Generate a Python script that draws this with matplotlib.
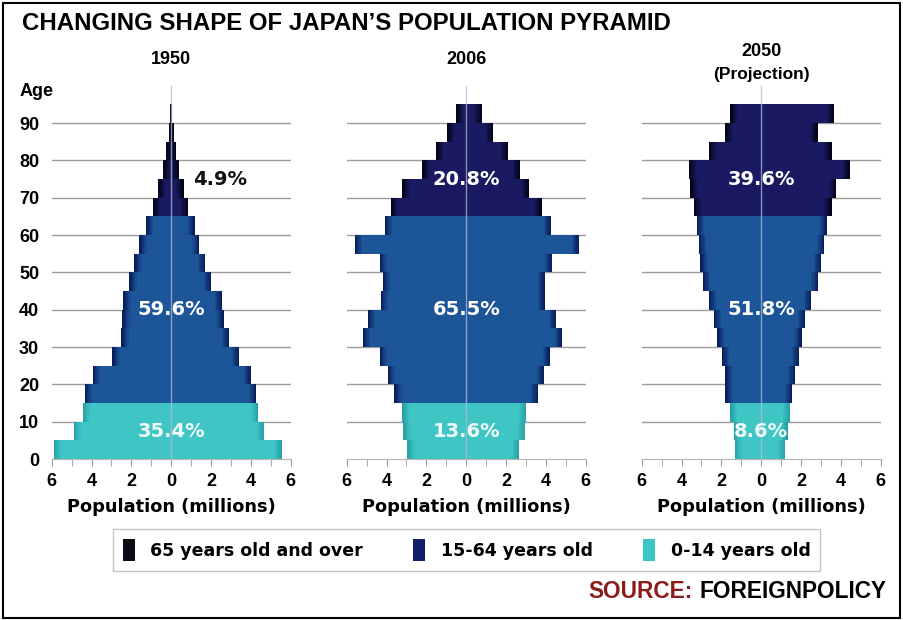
import numpy as np
import matplotlib
matplotlib.use('Agg')
from matplotlib import pyplot as plt
from matplotlib.colors import to_rgb
from matplotlib.patches import Patch, Rectangle
from matplotlib.ticker import FuncFormatter, MultipleLocator

# five-year age bands, 0-4 ... 90-94
age_bands = list(range(0, 95, 5))

# population in millions, left half / right half of each pyramid
left_1950 = [5.9, 4.9, 4.45, 4.35, 3.95, 2.95, 2.5, 2.45, 2.4, 2.1, 1.85, 1.6, 1.25, 0.9, 0.65, 0.4, 0.25, 0.12, 0.05]
right_1950 = [5.55, 4.65, 4.38, 4.28, 4.0, 3.4, 2.9, 2.63, 2.55, 2.0, 1.7, 1.42, 1.17, 0.85, 0.62, 0.38, 0.25, 0.12, 0.05]

left_2006 = [2.95, 3.15, 3.2, 3.6, 3.95, 4.35, 5.2, 4.95, 4.3, 4.2, 4.35, 5.6, 4.1, 3.8, 3.2, 2.2, 1.5, 0.95, 0.5]
right_2006 = [2.65, 2.95, 3.0, 3.6, 3.9, 4.2, 4.8, 4.5, 3.95, 3.95, 4.3, 5.65, 4.25, 3.8, 3.15, 2.7, 2.1, 1.35, 0.8]

left_2050 = [1.33, 1.38, 1.55, 1.8, 1.8, 1.97, 2.2, 2.38, 2.63, 2.93, 3.05, 3.13, 3.22, 3.38, 3.55, 3.63, 2.63, 1.8, 1.55]
right_2050 = [1.2, 1.33, 1.45, 1.57, 1.7, 1.9, 2.03, 2.2, 2.5, 2.87, 3.0, 3.17, 3.28, 3.53, 3.78, 4.45, 3.53, 2.83, 3.67]

# share of each age group (65+, 15-64, 0-14)
shares_1950 = ['4.9%', '59.6%', '35.4%']
shares_2006 = ['20.8%', '65.5%', '13.6%']
shares_2050 = ['39.6%', '51.8%', '8.6%']

legend_labels = ['65 years old and over', '15-64 years old', '0-14 years old']

# (edge colour, centre colour) for the bar shading
group_colors = {
    'old': ('#03031a', '#1a1a62'),
    'working': ('#081f5c', '#1c5598'),
    'young': ('#27a2a8', '#40c5c5'),
}
legend_colors = ['#0b0b14', '#0f1f6c', '#3cc6c6']

W, H = 904, 620
head = 'Liberation Sans'


def group_of(age):
    if age < 15:
        return 'young'
    if age < 65:
        return 'working'
    return 'old'


def shades(edge, main, n):
    e, m = np.array(to_rgb(edge)), np.array(to_rgb(main))
    return [tuple(e + (m - e) * k / (n - 1)) for k in range(n)]


def draw_pyramid(ax, left, right, shares, first=False, label_old_outside=False):
    layers = 7
    inset = 0.06
    band_shades = [shades(*group_colors[group_of(a)], layers) for a in age_bands]
    left, right = np.array(left), np.array(right)
    for k in range(layers):
        colors = [s[k] for s in band_shades]
        ax.barh(age_bands, -np.maximum(left - k * inset, 0), height=5, align='edge',
                color=colors, linewidth=0, zorder=2)
        ax.barh(age_bands, np.maximum(right - k * inset, 0), height=5, align='edge',
                color=colors, linewidth=0, zorder=2)

    for g in range(10, 100, 10):
        ax.axhline(g, color='#9c9c9c', lw=1, zorder=1)
    ax.axvline(0, color='#a9bcd6', lw=1, alpha=0.75, zorder=3)

    ax.set_xlim(-6, 6)
    ax.set_ylim(0, 100)
    for side in ['left', 'right', 'top']:
        ax.spines[side].set_visible(False)
    ax.spines['bottom'].set_color('#b5b5b5')
    ax.xaxis.set_major_locator(MultipleLocator(2))
    ax.xaxis.set_minor_locator(MultipleLocator(1))
    ax.xaxis.set_major_formatter(FuncFormatter(lambda v, p: f'{abs(v):.0f}'))
    ax.tick_params(axis='x', which='both', direction='out', length=5, color='#9a9a9a',
                   labelsize=13, pad=5)
    for t in ax.get_xticklabels():
        t.set_fontfamily(head)
        t.set_fontweight('bold')
    ax.set_xlabel('Population (millions)', fontsize=12.8, fontweight='bold', labelpad=6)

    if first:
        ax.set_yticks(range(0, 100, 10))
        ax.tick_params(axis='y', length=0, labelsize=13, pad=9)
        for t in ax.get_yticklabels():
            t.set_fontfamily(head)
            t.set_fontweight('bold')
    else:
        ax.set_yticks([])

    old_color = '#111111' if label_old_outside else 'white'
    old_x = 2.45 if label_old_outside else 0
    ax.text(old_x, 75, shares[0], color=old_color, fontsize=14, fontweight='bold',
            ha='center', va='center', zorder=4)
    ax.text(0, 40, shares[1], color='white', fontsize=14, fontweight='bold',
            ha='center', va='center', zorder=4)
    ax.text(0, 7.5, shares[2], color='#eefafa', fontsize=14, fontweight='bold',
            ha='center', va='center', zorder=4)


fig = plt.figure(figsize=(W / 100, H / 100), dpi=100)

panel_left = [51.7, 346.7, 641.7]
panel_w = 239
axes = [fig.add_axes([x / W, 161 / H, panel_w / W, 373.3 / H]) for x in panel_left]

draw_pyramid(axes[0], left_1950, right_1950, shares_1950, first=True, label_old_outside=True)
draw_pyramid(axes[1], left_2006, right_2006, shares_2006)
draw_pyramid(axes[2], left_2050, right_2050, shares_2050)

fig.text(22 / W, 1 - 24 / H, 'CHANGING SHAPE OF JAPAN\u2019S POPULATION PYRAMID',
         family=head, fontsize=17.3, fontweight='bold', ha='left', va='center')

centers = [x + panel_w / 2 for x in panel_left]
fig.text(centers[0] / W, 1 - 60 / H, '1950', fontsize=13, fontweight='bold',
         family=head, ha='center', va='center')
fig.text(centers[1] / W, 1 - 60 / H, '2006', fontsize=13, fontweight='bold',
         family=head, ha='center', va='center')
fig.text(centers[2] / W, 1 - 52 / H, '2050', fontsize=13, fontweight='bold',
         family=head, ha='center', va='center')
fig.text(centers[2] / W, 1 - 75 / H, '(Projection)', fontsize=12.5, fontweight='bold',
         family=head, ha='center', va='center')
fig.text(20 / W, 1 - 92 / H, 'Age', fontsize=13, fontweight='bold',
         family=head, ha='left', va='center')

handles = [Patch(facecolor=c, edgecolor='none') for c in legend_colors]
fig.legend(handles, legend_labels, loc='center', ncol=3, mode='expand',
           bbox_to_anchor=(113 / W, 1 - 572 / H, 707 / W, 44 / H), borderaxespad=0,
           frameon=True, fancybox=False, edgecolor='#c4c4c4', framealpha=1,
           handlelength=0.7, handleheight=1.6, handletextpad=0.9, borderpad=0.55,
           prop={'weight': 'bold', 'size': 12.5})

fig.text(887 / W, 1 - 592 / H, 'FOREIGNPOLICY', family=head, fontsize=16.3,
         fontweight='bold', ha='right', va='center')
fig.text(693 / W, 1 - 592 / H, 'SOURCE:', family=head, fontsize=16.3,
         fontweight='bold', color='#8c1c1c', ha='right', va='center')

fig.patches.append(Rectangle((3 / W, 2 / H), 897 / W, 615 / H, transform=fig.transFigure,
                             fill=False, edgecolor='black', lw=1.5))

fig.savefig('out.png', dpi=100)
